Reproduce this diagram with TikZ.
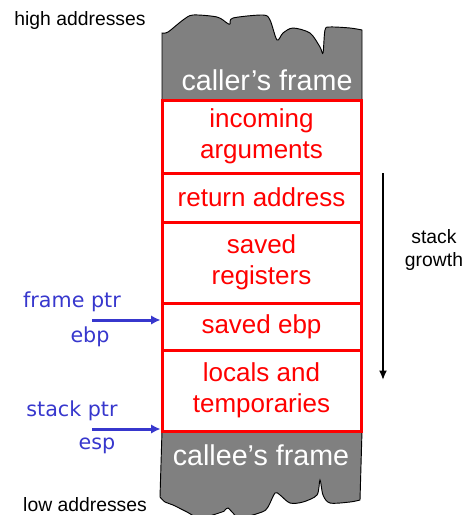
\documentclass[tikz,border=0pt]{standalone}
\usepackage{fontspec}
\usetikzlibrary{arrows.meta}
\setmainfont{Liberation Sans}
\newfontfamily\ptrfont{DejaVu Sans}
\definecolor{ptrblue}{RGB}{55,55,205}
\definecolor{framegray}{RGB}{128,128,128}
\tikzset{
  cell/.style={draw=red, line width=2.25pt, text=red, minimum width=149.25pt, inner sep=0pt, align=center, font=\fontsize{19.5}{23}\selectfont},
  stackframe/.style={draw=black, fill=framegray, line width=0.7pt},
  framelbl/.style={text=white, font=\fontsize{21.5}{24}\selectfont},
  ptr/.style={text=ptrblue, font=\ptrfont\fontsize{15.5}{18}\selectfont},
  ptrarrow/.style={draw=ptrblue, line width=2.25pt, -{Latex[length=7pt,width=7pt]}},
  note/.style={align=center, font=\fontsize{14.5}{17}\selectfont}
}
\begin{document}
\begin{tikzpicture}[x=0.75pt,y=-0.75pt]
\useasboundingbox (0,0) rectangle (467,515);

\draw[stackframe] (162,100) -- plot[smooth,tension=0.5] coordinates {(162,33) (168,32) (183,20) (193,15) (217,17) (227,23) (230,24) (233,18) (263,15) (270,20) (277,40) (283,33) (293,28) (310,33) (320,47) (323,53) (325,30) (330,27) (350,28) (362,30)} -- (362,100) -- cycle;
\draw[stackframe] (162,431) -- plot[smooth,tension=0.5] coordinates {(160,497) (165,502) (173,505) (187,512) (200,518) (222,512) (225,510) (228,508) (233,513) (240,518) (262,512) (268,507) (275,493) (280,495) (290,503) (303,502) (317,495) (320,480) (323,495) (330,503) (350,502) (360,500)} -- (362,431) -- cycle;

\node[framelbl] (caller) at (267,80) {caller’s frame};
\node[framelbl] (callee) at (261,455) {callee’s frame};

\node[cell, minimum height=54.75pt] (args) at (261.5,136.5) {incoming\\arguments};
\node[cell, minimum height=36.75pt] (ret) at (261.5,197.5) {return address};
\node[cell, minimum height=60.75pt] (regs) at (261.5,262.5) {saved\\registers};
\node[cell, minimum height=35.25pt] (oldebp) at (261.5,326.5) {saved ebp};
\node[cell, minimum height=60.75pt] (locals) at (261.5,390.5) {locals and\\temporaries};

\node[note] (high) at (80,20) {high addresses};
\node[note] (low) at (85,505) {low addresses};

\node[ptr] (fplbl) at (72,302) {frame ptr};
\node[ptr] (ebplbl) at (90,337) {ebp};
\coordinate (fptail) at (92,320);
\draw[ptrarrow] (fptail) -- (oldebp.west |- fptail);

\node[ptr] (splbl) at (72,411) {stack ptr};
\node[ptr] (esplbl) at (97,446) {esp};
\coordinate (sptail) at (92,429);
\draw[ptrarrow] (sptail) -- (locals.west |- sptail);

\coordinate (growtop) at (383,173);
\coordinate (growbot) at (383,380);
\draw[line width=1.5pt, -{Latex[length=7pt,width=6pt]}] (growtop) -- (growbot);
\node[note] (growth) at (434,250) {stack\\growth};

\end{tikzpicture}
\end{document}
